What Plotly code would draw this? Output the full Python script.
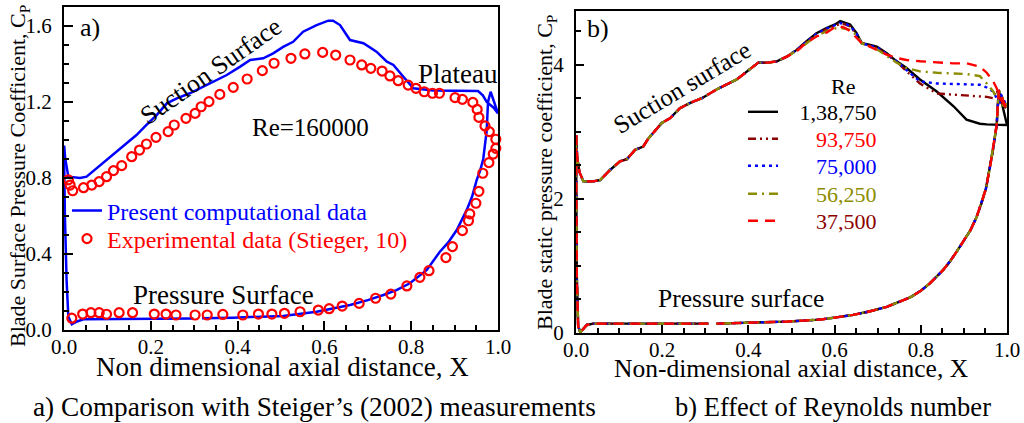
import plotly.graph_objects as go

W, H = 1024, 423
FONT = "Liberation Serif, Times New Roman, serif"

# ---------------- Panel a data ----------------
a_comp_x = [0.000, 0.003, 0.010, 0.037, 0.052, 0.075, 0.106, 0.137, 0.167, 0.190, 0.214, 0.237,
            0.260, 0.290, 0.329, 0.375, 0.406, 0.429, 0.459, 0.482, 0.505, 0.528, 0.551, 0.582,
            0.609, 0.620, 0.636, 0.659, 0.690, 0.720, 0.744, 0.759, 0.782, 0.805, 0.851, 0.928,
            0.954, 0.965, 0.974, 0.990, 1.000,
            0.983, 0.977, 0.974, 0.966, 0.959, 0.951, 0.940, 0.928, 0.905, 0.885, 0.866, 0.836,
            0.797, 0.766, 0.736, 0.700, 0.659, 0.620, 0.582, 0.505, 0.450, 0.390, 0.318, None,
            0.298, 0.200, 0.083, 0.045, 0.030, 0.018, 0.012, 0.010, 0.006, 0.002, 0.000]
a_comp_cp = [0.970, 0.900, 0.807, 0.800, 0.807, 0.850, 0.912, 0.965, 1.026, 1.079, 1.132, 1.193,
             1.219, 1.246, 1.289, 1.342, 1.386, 1.421, 1.430, 1.456, 1.490, 1.517, 1.570, 1.605,
             1.628, 1.628, 1.605, 1.526, 1.509, 1.465, 1.412, 1.395, 1.333, 1.272, 1.260, 1.260,
             1.258, 1.235, 1.200, 1.170, 1.140,
             1.254, 1.200, 1.050, 0.900, 0.840, 0.790, 0.700, 0.632, 0.526, 0.460, 0.412, 0.316,
             0.246, 0.210, 0.184, 0.157, 0.132, 0.112, 0.096, 0.074, 0.068, 0.065, 0.062, None,
             0.060, 0.058, 0.058, 0.056, 0.045, 0.030, 0.060, 0.070, 0.260, 0.610, 0.970]

a_exp_x = [0.010, 0.014, 0.020, 0.045, 0.064, 0.081, 0.098, 0.114, 0.133, 0.156, 0.174, 0.190,
           0.212, 0.240, 0.254, 0.281, 0.302, 0.316, 0.334, 0.359, 0.390, 0.422, 0.457, 0.484,
           0.523, 0.555, 0.596, 0.626, 0.659, 0.686, 0.707, 0.733, 0.751, 0.770, 0.793, 0.811,
           0.830, 0.849, 0.865, 0.901, 0.918, 0.942, 0.952, 0.956, 0.970, 0.980, 0.995,
           0.995, 0.989, 0.979, 0.965, 0.956, 0.949, 0.935, 0.932, 0.918, 0.895, 0.880, 0.841,
           0.820, 0.790, 0.753, 0.718, 0.680, 0.641, 0.611, 0.586, 0.544, 0.508, 0.479, 0.448,
           0.412, 0.366, 0.330, 0.302, 0.258, 0.235, 0.208, 0.158, 0.127, 0.098, 0.081, 0.062,
           0.043, 0.018]
a_exp_cp = [0.790, 0.763, 0.733, 0.749, 0.763, 0.781, 0.807, 0.839, 0.865, 0.912, 0.947, 0.979,
            1.014, 1.044, 1.079, 1.114, 1.140, 1.175, 1.202, 1.240, 1.277, 1.321, 1.365, 1.404,
            1.430, 1.453, 1.461, 1.447, 1.421, 1.395, 1.377, 1.363, 1.337, 1.312, 1.289, 1.272,
            1.254, 1.246, 1.246, 1.223, 1.214, 1.198, 1.161, 1.119, 1.074, 1.044, 1.004,
            0.956, 0.926, 0.881, 0.825, 0.730, 0.667, 0.611, 0.575, 0.523, 0.439, 0.381, 0.312,
            0.277, 0.232, 0.189, 0.167, 0.140, 0.126, 0.112, 0.105, 0.096, 0.088, 0.084, 0.084,
            0.079, 0.082, 0.079, 0.079, 0.079, 0.084, 0.084, 0.091, 0.091, 0.083, 0.091, 0.091,
            0.084, 0.062]

# ---------------- Panel b data ----------------
b_ss_x = [0.000, 0.003, 0.008, 0.017, 0.040, 0.056, 0.079, 0.102, 0.118, 0.137, 0.156, 0.168,
          0.199, 0.218, 0.241, 0.265, 0.292, 0.326, 0.373, 0.404, 0.423, 0.446, 0.466, 0.489,
          0.512, 0.535, 0.558, 0.582, 0.601, 0.613, 0.624, 0.636, 0.651, 0.663, 0.678, 0.698,
          0.721, 0.744, 0.767, 0.798, 0.837, 0.876, 0.906, 0.937, 0.953, 0.968, 0.976, 0.985,
          1.000]
b_ss_common = [2.95, 2.60, 2.40, 2.26, 2.26, 2.28, 2.43, 2.56, 2.59, 2.73, 2.78, 2.90,
               3.13, 3.20, 3.35, 3.43, 3.50, 3.63, 3.78, 3.93, 4.03, 4.03, 4.05, 4.12]
b_ss_138750 = [4.22, 4.35, 4.47, 4.55, 4.60, 4.65, 4.63, 4.60, 4.47, 4.32, 4.30, 4.27,
               4.17, 4.05, 3.95, 3.78, 3.60, 3.38, 3.18, 3.12, 3.11, 3.11, 3.11, 3.10, 3.10]
b_ss_93750 = [4.22, 4.34, 4.45, 4.53, 4.58, 4.61, 4.60, 4.57, 4.45, 4.32, 4.29, 4.25,
              4.15, 4.05, 3.90, 3.72, 3.57, 3.55, 3.54, 3.53, 3.52, 3.50, 3.62, 3.45, 3.33]
b_ss_75000 = [4.22, 4.34, 4.46, 4.54, 4.59, 4.62, 4.61, 4.58, 4.46, 4.32, 4.29, 4.26,
              4.16, 4.05, 3.92, 3.75, 3.72, 3.71, 3.70, 3.70, 3.66, 3.60, 3.50, 3.42, 3.38]
b_ss_56250 = [4.21, 4.32, 4.43, 4.50, 4.54, 4.55, 4.54, 4.52, 4.44, 4.32, 4.28, 4.23,
              4.13, 4.03, 3.95, 3.90, 3.88, 3.87, 3.86, 3.83, 3.72, 3.60, 3.50, 3.40, 3.38]
b_ss_37500 = [4.20, 4.33, 4.42, 4.48, 4.56, 4.57, 4.55, 4.50, 4.40, 4.32, 4.28, 4.22,
              4.15, 4.10, 4.07, 4.05, 4.03, 4.02, 4.02, 3.97, 3.88, 3.75, 3.65, 3.50, 3.33]

b_ps_x = [0.981, 0.976, 0.968, 0.960, 0.951, 0.940, 0.929, 0.915, 0.899, 0.884, 0.868, 0.852,
          0.821, 0.800, 0.775, 0.750, 0.721, 0.680, 0.643, 0.600, 0.566, 0.489, 0.396, 0.326,
          None, 0.307, 0.250, 0.179, 0.120, 0.063, 0.040, 0.025, 0.015, 0.010, 0.005, 0.002,
          0.001, 0.000]
b_ps_cp = [3.62, 3.10, 2.75, 2.45, 2.15, 1.92, 1.72, 1.53, 1.36, 1.22, 1.07, 0.94,
           0.74, 0.63, 0.53, 0.46, 0.39, 0.32, 0.27, 0.23, 0.20, 0.17, 0.15, 0.14,
           None, 0.14, 0.14, 0.14, 0.14, 0.15, 0.14, 0.12, 0.05, 0.01, 0.10, 0.80,
           1.80, 2.95]

re_labels = ["1,38,750", "93,750", "75,000", "56,250", "37,500"]
re_tails = [b_ss_138750, b_ss_93750, b_ss_75000, b_ss_56250, b_ss_37500]
re_line_colors = ["#000000", "#8B0000", "#0000FF", "#8C8C00", "#FF0000"]
re_text_colors = ["#000000", "#FF0000", "#0000FF", "#8C8C00", "#8B0000"]
re_dashes = ["solid", "8px,4px,2px,4px,2px,4px", "3px,4px", "9px,5px,2px,5px", "10px,7px"]
re_pads = ["\u2007\u2008", "\u2007\u2007\u2007", "\u2007\u2007\u2007", "\u2007\u2007\u2007", "\u2007\u2007\u2007"]


def px(x):
    return x / W


def py(y):
    return 1 - y / H


fig = go.Figure()

fig.add_trace(go.Scatter(
    x=a_comp_x, y=a_comp_cp, mode="lines", xaxis="x", yaxis="y",
    line=dict(color="#0000FF", width=2.5), cliponaxis=False,
    name="<span style='color:#0000FF'>Present computational data</span>", legend="legend"))
fig.add_trace(go.Scatter(
    x=a_exp_x, y=a_exp_cp, mode="markers", xaxis="x", yaxis="y",
    marker=dict(symbol="circle-open", size=9, color="#FF0000", line=dict(width=2.2, color="#FF0000")),
    cliponaxis=False,
    name="<span style='color:#FF0000'>Experimental data (Stieger, 10)</span>", legend="legend2"))

legend_b_rows = [112, 139, 166, 194, 221]
for i, (lab, tail, lc, tc, dsh, pad) in enumerate(zip(re_labels, re_tails, re_line_colors,
                                                        re_text_colors, re_dashes, re_pads)):
    xs = b_ss_x + b_ps_x
    ys = b_ss_common + tail + b_ps_cp
    fig.add_trace(go.Scatter(
        x=xs, y=ys, mode="lines", xaxis="x2", yaxis="y2", cliponaxis=False,
        line=dict(color=lc, width=2.4, dash=dsh),
        name=f"<span style='color:{tc}'>{pad}{lab}</span>", legend=f"legend{i + 3}"))

axis_common = dict(showgrid=False, zeroline=False, showline=True, linewidth=2, linecolor="black",
                   mirror=True, ticks="inside", tickwidth=2, tickcolor="black", automargin=False,
                   tickfont=dict(family=FONT, size=21, color="black"))

leg_common = dict(xanchor="left", yanchor="middle", bgcolor="rgba(0,0,0,0)", itemwidth=30,
                  tracegroupgap=0, itemclick=False, itemdoubleclick=False, borderwidth=0)

layout_legends = {
    "legend": dict(x=px(67), y=py(211), font=dict(family=FONT, size=24), **leg_common),
    "legend2": dict(x=px(67), y=py(239), font=dict(family=FONT, size=24), **leg_common),
}
for i, row in enumerate(legend_b_rows):
    layout_legends[f"legend{i + 3}"] = dict(x=px(743), y=py(row), font=dict(family=FONT, size=22),
                                            **leg_common)

fig.update_layout(
    width=W, height=H, margin=dict(l=0, r=0, t=0, b=0, autoexpand=False),
    paper_bgcolor="white", plot_bgcolor="white",
    font=dict(family=FONT, color="black"),
    xaxis=dict(domain=[px(64), px(498)], range=[0, 1], anchor="y", dtick=0.2, tick0=0,
               tickformat=".1f", ticklen=9, ticklabelstandoff=-3,
               minor=dict(dtick=0.05, tick0=0, ticks="inside", ticklen=5, tickwidth=1.5, tickcolor="black"),
               **axis_common),
    yaxis=dict(domain=[py(330), py(7)], range=[0, 1.7], anchor="x", dtick=0.4, tick0=0,
               tickformat=".1f", ticklen=9, ticklabelstandoff=6,
               minor=dict(dtick=0.1, tick0=0, ticks="inside", ticklen=5, tickwidth=1.5, tickcolor="black"),
               **axis_common),
    xaxis2=dict(domain=[px(576), px(1007)], range=[0, 1], anchor="y2", dtick=0.2, tick0=0,
                tickformat=".1f", ticklen=8, ticklabelstandoff=-3,
                minor=dict(dtick=0.05, tick0=0, ticks="inside", ticklen=5, tickwidth=1.5, tickcolor="black"),
                **axis_common),
    yaxis2=dict(domain=[py(333), py(11)], range=[0, 4.8], anchor="x2", dtick=2, tick0=0,
                tickformat="d", ticklen=8, ticklabelstandoff=6,
                minor=dict(dtick=0.5, tick0=0, ticks="inside", ticklen=5, tickwidth=1.5, tickcolor="black"),
                **axis_common),
    showlegend=True,
    **layout_legends,
)


def ann(text, x, y, size, angle=0, color="black", xanchor="center"):
    fig.add_annotation(text=text, x=px(x), y=py(y), xref="paper", yref="paper",
                       showarrow=False, textangle=angle, xanchor=xanchor, yanchor="middle",
                       font=dict(family=FONT, size=size, color=color))


ann("a)", 90, 28, 26)
ann("Suction Surface", 210, 71, 26, angle=-35)
ann("Plateau", 458, 74, 27)
ann("Re=160000", 310, 127, 25)
ann("Pressure Surface", 223, 295, 27)
ann("Non dimensional axial distance, X", 282, 367, 27)
ann("Blade Surface Pressure Coefficient, C<sub>P</sub>", 19, 176, 22, angle=-90)
ann("a) Comparison with Steiger\u2019s (2002) measurements", 314, 407, 27.3)

ann("b)", 598, 29, 26)
ann("Suction surface", 682, 88, 25, angle=-31)
ann("Re", 843, 87, 22)
ann("Pressure surface", 741, 298, 25.5)
ann("Non-dimensional axial distance, X", 791, 368, 25.5)
ann("Blade static pressure coefficient, C<sub>P</sub>", 546, 173, 22, angle=-90)
ann("b) Effect of Reynolds number", 833, 407, 26.5)

fig.write_html("out.html", config={"displayModeBar": False},
               post_script="document.body.style.margin='0px';document.body.style.overflow='hidden';")
